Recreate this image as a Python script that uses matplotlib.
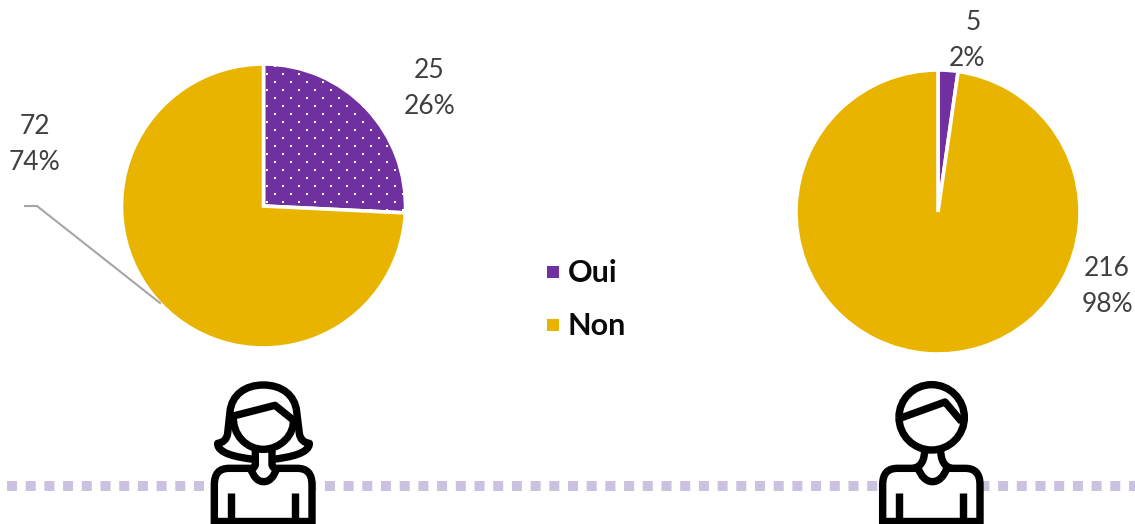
import numpy as np
import matplotlib
matplotlib.use("Agg")
import matplotlib.pyplot as plt
from matplotlib.path import Path
from matplotlib.patches import PathPatch

categories = ["Oui", "Non"]
women_values = [25, 72]
men_values = [5, 216]
women_pct = ["26%", "74%"]
men_pct = ["2%", "98%"]

PURPLE = "#7030A0"
GOLD = "#E9B400"
GREY = "#404040"
W, H = 1135, 524
DPI = 100

fig = plt.figure(figsize=(W / DPI, H / DPI), dpi=DPI, facecolor="white")
ax = fig.add_axes([0, 0, 1, 1])


def Y(y):
    return H - y


px = 72 / DPI

# dotted band behind the icons
ax.plot([7, 1135], [Y(486), Y(486)], color="#CBC1E0", lw=10 * px,
        linestyle=(0, (1, 0.87)), dash_capstyle="butt", zorder=1)

wedge_style = dict(edgecolor="white", linewidth=3.6 * px)
w_left, _ = ax.pie(women_values, colors=[PURPLE, GOLD], startangle=90, counterclock=False,
                   center=(263.5, Y(206)), radius=142, wedgeprops=wedge_style, frame=True)
w_right, _ = ax.pie(men_values, colors=[PURPLE, GOLD], startangle=90, counterclock=False,
                    center=(938, Y(212)), radius=142, wedgeprops=wedge_style, frame=True)
for w in w_left + w_right:
    w.set_zorder(2)

ax.set_xlim(0, W)
ax.set_ylim(0, H)
ax.set_aspect("auto")
ax.axis("off")


def dot_texture(x0, x1, y0, y1, clip=None):
    """White dot texture, staggered grid."""
    xs, ys = [], []
    for i, yy in enumerate(np.arange(y0, y1, 8.0)):
        off = 0 if i % 2 == 0 else 8.0
        for xx in np.arange(x0 + off, x1, 16.0):
            xs.append(xx)
            ys.append(Y(yy))
    s = ax.scatter(xs, ys, s=(2.4 * px) ** 2, marker="s", color="white", linewidths=0, zorder=3)
    if clip is not None:
        s.set_clip_path(clip)


dot_texture(259, 405, 66, 212, w_left[0])

# leader line
ax.plot([25, 37, 160], [Y(206), Y(206), Y(303)], color="#A6A6A6", lw=2.1 * px, zorder=2,
        solid_joinstyle="miter")

label_font = dict(family="Lato", fontsize=19, color=GREY, ha="center", va="center", zorder=5)
ax.text(429.5, Y(70), str(women_values[0]), **label_font)
ax.text(429.5, Y(106), women_pct[0], **label_font)
ax.text(34.5, Y(126), str(women_values[1]), **label_font)
ax.text(34.5, Y(162), women_pct[1], **label_font)
ax.text(973, Y(22), str(men_values[0]), **label_font)
ax.text(966.5, Y(58), men_pct[0], **label_font)
ax.text(1107, Y(268), str(men_values[1]), **label_font)
ax.text(1107, Y(304), men_pct[1], **label_font)

# legend
for yy, col, name in zip([272, 325], [PURPLE, GOLD], categories):
    ax.scatter([553], [Y(yy)], s=(12 * px) ** 2, marker="s", color=col, linewidths=0, zorder=5)
    ax.text(568, Y(yy + 1), name, family="Lato", fontweight="bold", fontsize=22, color="#0A0A0A",
            ha="left", va="center", zorder=5)

M, L, C = Path.MOVETO, Path.LINETO, Path.CURVE4
STROKE = 7.4 * px


def stroke(ox, segs, fill="none", closed=False, z=6, lw=STROKE):
    """segs: list of (code, x, y) in zoomed crop units (3x), offset by ox."""
    v = [(ox + x / 3, Y(370 + y / 3)) for _, x, y in segs]
    c = [k for k, _, _ in segs]
    if closed:
        v.append(v[0])
        c.append(Path.CLOSEPOLY)
    ax.add_patch(PathPatch(Path(v, c), facecolor=fill, edgecolor="black", lw=lw, zorder=z,
                           capstyle="butt", joinstyle="round", clip_on=True))


def circle(cx, cy, r):
    k = 0.5523 * r
    return [(M, cx - r, cy),
            (C, cx - r, cy - k), (C, cx - k, cy - r), (C, cx, cy - r),
            (C, cx + k, cy - r), (C, cx + r, cy - k), (C, cx + r, cy),
            (C, cx + r, cy + k), (C, cx + k, cy + r), (C, cx, cy + r),
            (C, cx - k, cy + r), (C, cx - r, cy + k), (C, cx - r, cy)]


def body(ox, xl, xr, top, dip_l, dip_r, dip_y):
    mid = (dip_l + dip_r) / 2
    stroke(ox, [(M, xl, 470), (L, xl, top + 50),
                (C, xl, top + 15), (C, xl + 15, top), (C, xl + 45, top),
                (L, dip_l, top),
                (C, dip_l + 8, top + 25), (C, mid - 18, dip_y), (C, mid, dip_y),
                (C, mid + 18, dip_y), (C, dip_r - 8, top + 25), (C, dip_r, top),
                (L, xr - 45, top),
                (C, xr - 15, top), (C, xr, top + 15), (C, xr, top + 50),
                (L, xr, 470), (L, xl, 470)], fill="white", z=5)
    stroke(ox, [(M, xl + 50, 370), (L, xl + 50, 450)], lw=STROKE)
    stroke(ox, [(M, xr - 50, 370), (L, xr - 50, 450)], lw=STROKE)
    stroke(ox, [(M, xl, 452), (L, xr, 452)], lw=STROKE)


# woman icon
ox = 180
body(ox, 103, 396, 295, 212, 290, 335)
stroke(ox, [(M, 226, 240), (L, 226, 282), (C, 226, 292), (C, 218, 296), (C, 210, 298)], z=6)
stroke(ox, [(M, 276, 240), (L, 276, 282), (C, 276, 292), (C, 284, 296), (C, 292, 298)], z=6)
# hair with flips
stroke(ox, [(M, 222, 268), (C, 170, 262), (C, 112, 250), (C, 113, 220),
            (C, 128, 218), (C, 140, 210), (C, 143, 190),
            (L, 150, 125), (C, 155, 75), (C, 195, 45), (C, 250, 45),
            (C, 305, 45), (C, 345, 75), (C, 350, 125),
            (L, 358, 190), (C, 361, 210), (C, 373, 218), (C, 388, 220),
            (C, 388, 250), (C, 330, 262), (C, 278, 268)], z=6)
# face
stroke(ox, [(M, 160, 135), (C, 156, 195), (C, 200, 238), (C, 250, 238),
            (C, 300, 238), (C, 345, 195), (C, 340, 145)], z=7)
# fringe
stroke(ox, [(M, 160, 138), (L, 285, 106), (L, 342, 152)], z=8)

# man icon
ox = 850
body(ox, 98, 390, 295, 205, 290, 335)
stroke(ox, [(M, 224, 238), (C, 224, 270), (C, 214, 290), (C, 190, 295)], z=6)
stroke(ox, [(M, 272, 238), (C, 272, 270), (C, 282, 290), (C, 305, 295)], z=6)
stroke(ox, circle(245, 142, 98), fill="white", z=7)
stroke(ox, [(M, 155, 143), (L, 285, 96), (L, 335, 155)], z=8)

fig.savefig("out.png", dpi=DPI, facecolor="white")
